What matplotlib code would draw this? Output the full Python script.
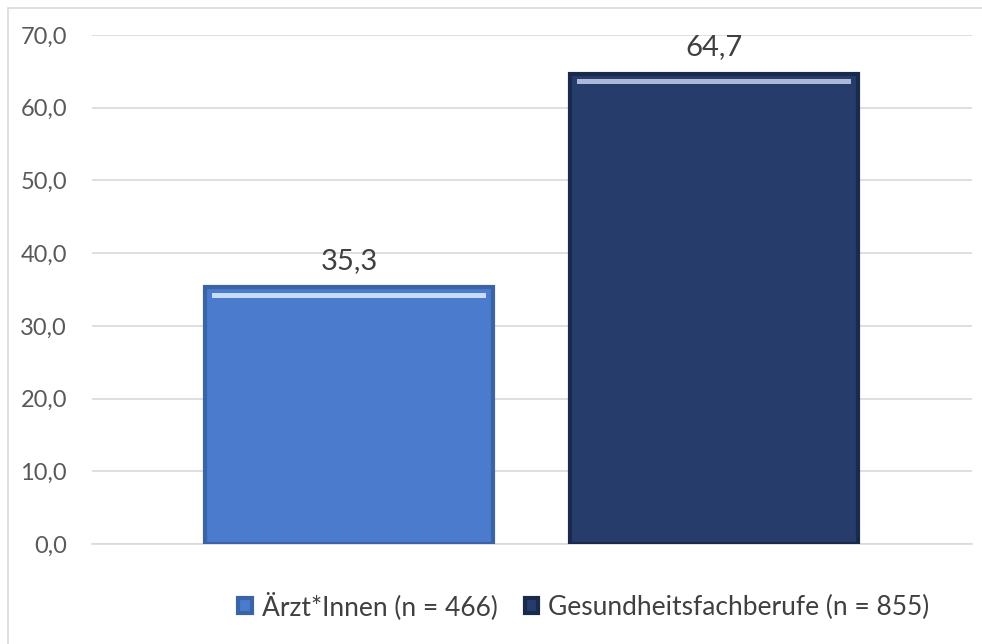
import matplotlib.pyplot as plt
from matplotlib.patches import Rectangle

plt.rcParams['font.family'] = ['Lato', 'DejaVu Sans']

labels = ['Ärzt*Innen (n = 466)', 'Gesundheitsfachberufe (n = 855)']
values = [35.3, 64.7]
colors = ['#4a7bcd', '#263c6b']
edges = ['#3a63a8', '#1a2a4c']
highlights = ['#c9dcf5', '#a9bad8']
yticks = [0, 10, 20, 30, 40, 50, 60, 70]

fig = plt.figure(figsize=(9.82, 6.44), dpi=100)
fig.patches.append(Rectangle((8 / 982, -0.01), 1.05, 1 - 8 / 644 + 0.01, transform=fig.transFigure,
                             fill=False, edgecolor='#d9d9d9', linewidth=1.2))
ax = fig.add_axes([92 / 982, 1 - 544 / 644, 880 / 982, 509 / 644])

x = list(range(len(values)))
width = 0.79
handles = []
for i, v in enumerate(values):
    b = ax.bar(x[i], v, width=width, color=colors[i], edgecolor=edges[i], linewidth=3,
               zorder=3, label=labels[i])
    handles.append(b)
    # bevel highlight near the top
    ax.bar(x[i], 0.7, bottom=v - 1.5, width=width * 0.95, color=highlights[i],
           linewidth=0, zorder=4)
    ax.text(x[i], v + 1.8, f'{v:.1f}'.replace('.', ','), ha='center', va='bottom',
            fontsize=21, color='#404040')

ax.set_xlim(-0.704, 1.707)
ax.set_ylim(0, 70)
ax.set_yticks(yticks)
ax.set_yticklabels([f'{t:.1f}'.replace('.', ',') for t in yticks], fontsize=17, color='#595959')
ax.set_xticks([])
ax.tick_params(axis='y', length=0, pad=18)
ax.grid(axis='y', color='#d9d9d9', linewidth=1.2, zorder=0)
for s in ['top', 'right', 'left']:
    ax.spines[s].set_visible(False)
ax.spines['bottom'].set_color('#d9d9d9')
ax.spines['bottom'].set_linewidth(1.2)

fig.legend(handles=handles, loc='center', bbox_to_anchor=(584 / 982, 1 - 606 / 644), ncol=2,
           frameon=False, fontsize=19, handlelength=0.5, handleheight=0.5, handletextpad=0.4,
           columnspacing=1.0, labelcolor='#404040')

fig.savefig('out.png', dpi=100)
